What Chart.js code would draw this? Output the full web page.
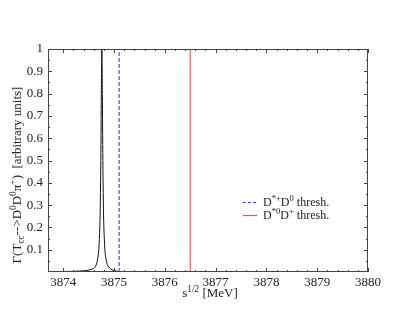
<!DOCTYPE html>
<html>
<head>
<meta charset="utf-8">
<script src="https://cdn.jsdelivr.net/npm/chart.js@4"></script>
<style>
  body { margin: 0; background: #fff; }
  #c { display: block; }
</style>
</head>
<body>
<canvas id="c" width="415" height="321"></canvas>
<script>
// peak
const energies = [3873.70, 3874.00, 3874.30, 3874.50, 3874.60, 3874.64, 3874.68, 3874.70, 3874.72, 3874.73,
                  3874.74, 3874.75, 3874.76, 3874.77, 3874.78, 3874.79, 3874.80, 3874.82, 3874.84, 3874.88,
                  3874.96, 3875.05, 3875.10, 3875.50, 3876.00, 3877.00, 3878.00, 3879.00, 3880.00];
const rates    = [0.001, 0.002, 0.004, 0.008, 0.016, 0.026, 0.060, 0.100, 0.200, 0.310,
                  0.500, 0.800, 1.000, 0.800, 0.500, 0.310, 0.200, 0.100, 0.060, 0.027,
                  0.010, 0.004, 0.002, 0.001, 0.001, 0.001, 0.001, 0.001, 0.001];
const threshDstarPlusD0 = 3875.10;
const threshDstar0Dplus = 3876.50;
const xTicks = [3874, 3875, 3876, 3877, 3878, 3879, 3880];
const yTicks = [0.1, 0.2, 0.3, 0.4, 0.5, 0.6, 0.7, 0.8, 0.9, 1];

const serif = '"Liberation Serif", "DejaVu Serif", serif';

// draws text pieces with sub/superscripts
function richText(ctx, parts, x, y, size) {
  let cx = x;
  parts.forEach(p => {
    const s = p.t ? size * 0.72 : size;
    const dy = p.t === 'sup' ? -size * 0.42 : (p.t === 'sub' ? size * 0.25 : 0);
    ctx.font = s + 'px ' + serif;
    ctx.fillText(p.s, cx, y + dy);
    cx += ctx.measureText(p.s).width;
  });
  return cx - x;
}
function richWidth(ctx, parts, size) {
  let w = 0;
  parts.forEach(p => {
    ctx.font = (p.t ? size * 0.72 : size) + 'px ' + serif;
    w += ctx.measureText(p.s).width;
  });
  return w;
}

const decorations = {
  id: 'decorations',
  afterDraw(chart) {
    const ctx = chart.ctx;
    const a = chart.chartArea;
    const xs = chart.scales.x, ys = chart.scales.y;
    ctx.save();
    // frame
    ctx.strokeStyle = '#444';
    ctx.lineWidth = 1;
    ctx.strokeRect(a.left + 0.5, a.top + 0.5, a.right - a.left - 1, a.bottom - a.top - 1);
    // inside ticks
    ctx.beginPath();
    for (let v = 3874; v <= 3880.001; v += 0.2) {
      const px = Math.round(xs.getPixelForValue(v)) + 0.5;
      const major = Math.abs(v - Math.round(v)) < 0.01;
      const len = major ? 4 : 2;
      ctx.moveTo(px, a.bottom); ctx.lineTo(px, a.bottom - len);
      ctx.moveTo(px, a.top); ctx.lineTo(px, a.top + len);
    }
    for (let v = 0.05; v <= 1.001; v += 0.05) {
      const py = Math.round(ys.getPixelForValue(v)) + 0.5;
      const major = Math.abs(v * 10 - Math.round(v * 10)) < 0.01;
      const len = major ? 4 : 2;
      ctx.moveTo(a.left, py); ctx.lineTo(a.left + len, py);
      ctx.moveTo(a.right, py); ctx.lineTo(a.right - len, py);
    }
    ctx.stroke();

    ctx.fillStyle = '#222';
    ctx.textBaseline = 'alphabetic';
    // x title
    const xt = [{s: 's'}, {s: '1/2', t: 'sup'}, {s: ' [MeV]'}];
    const xw = richWidth(ctx, xt, 13);
    richText(ctx, xt, (a.left + a.right) / 2 - xw / 2 + 2, 297, 13);
    // y title
    const yt = [{s: 'Γ(T'}, {s: 'cc', t: 'sub'}, {s: '-->D'}, {s: '0', t: 'sup'}, {s: 'D'},
                {s: '0', t: 'sup'}, {s: 'π'}, {s: '+', t: 'sup'}, {s: ')  [arbitrary units]'}];
    const yw = richWidth(ctx, yt, 13);
    ctx.save();
    ctx.translate(21, 175);
    ctx.rotate(-Math.PI / 2);
    richText(ctx, yt, -yw / 2, 0, 13);
    ctx.restore();

    // legend
    const lx = 243, ly1 = 202, ly2 = 215;
    ctx.lineWidth = 1;
    ctx.setLineDash([3, 2]);
    ctx.strokeStyle = '#3a3ae0';
    ctx.beginPath(); ctx.moveTo(lx, ly1 + 0.5); ctx.lineTo(lx + 14, ly1 + 0.5); ctx.stroke();
    ctx.setLineDash([]);
    ctx.strokeStyle = '#ff4d4d';
    ctx.lineWidth = 1.2;
    ctx.beginPath(); ctx.moveTo(lx, ly2 + 0.5); ctx.lineTo(lx + 14, ly2 + 0.5); ctx.stroke();
    ctx.fillStyle = '#222';
    richText(ctx, [{s: 'D'}, {s: '*+', t: 'sup'}, {s: 'D'}, {s: '0', t: 'sup'}, {s: ' thresh.'}], lx + 20, ly1 + 4, 12);
    richText(ctx, [{s: 'D'}, {s: '*0', t: 'sup'}, {s: 'D'}, {s: '+', t: 'sup'}, {s: ' thresh.'}], lx + 20, ly2 + 4, 12);
    ctx.restore();
  }
};

new Chart(document.getElementById('c'), {
  type: 'scatter',
  data: {
    datasets: [
      {
        label: 'rate',
        data: energies.map((e, i) => ({x: e, y: rates[i]})),
        showLine: true,
        borderColor: '#111',
        borderWidth: 1,
        pointRadius: 0,
        tension: 0.3
      },
      {
        label: 'D*+D0 thresh.',
        data: [{x: threshDstarPlusD0, y: 0}, {x: threshDstarPlusD0, y: 1}],
        showLine: true,
        borderColor: '#2a2ad0',
        borderDash: [4, 2],
        borderWidth: 1,
        pointRadius: 0
      },
      {
        label: 'D*0D+ thresh.',
        data: [{x: threshDstar0Dplus, y: 0}, {x: threshDstar0Dplus, y: 1}],
        showLine: true,
        borderColor: '#e8474a',
        borderWidth: 1,
        pointRadius: 0
      }
    ]
  },
  options: {
    responsive: false,
    animation: false,
    layout: { padding: { left: 0, top: 49, right: 47, bottom: 0 } },
    plugins: { legend: { display: false }, tooltip: { enabled: false } },
    scales: {
      x: {
        type: 'linear',
        min: 3873.7,
        max: 3880,
        afterBuildTicks: s => { s.ticks = xTicks.map(v => ({value: v})); },
        afterFit: s => { s.height = 49; },
        grid: { display: false, drawTicks: false },
        border: { display: false },
        ticks: {
          padding: 3,
          color: '#222',
          font: { family: serif, size: 13 },
          maxRotation: 0,
          callback: v => String(v)
        }
      },
      y: {
        type: 'linear',
        min: 0,
        max: 1,
        afterBuildTicks: s => { s.ticks = yTicks.map(v => ({value: v})); },
        afterFit: s => { s.width = 48; },
        grid: { display: false, drawTicks: false },
        border: { display: false },
        ticks: {
          padding: 5,
          color: '#222',
          font: { family: serif, size: 13 },
          callback: v => String(v)
        }
      }
    }
  },
  plugins: [decorations]
});
</script>
</body>
</html>
